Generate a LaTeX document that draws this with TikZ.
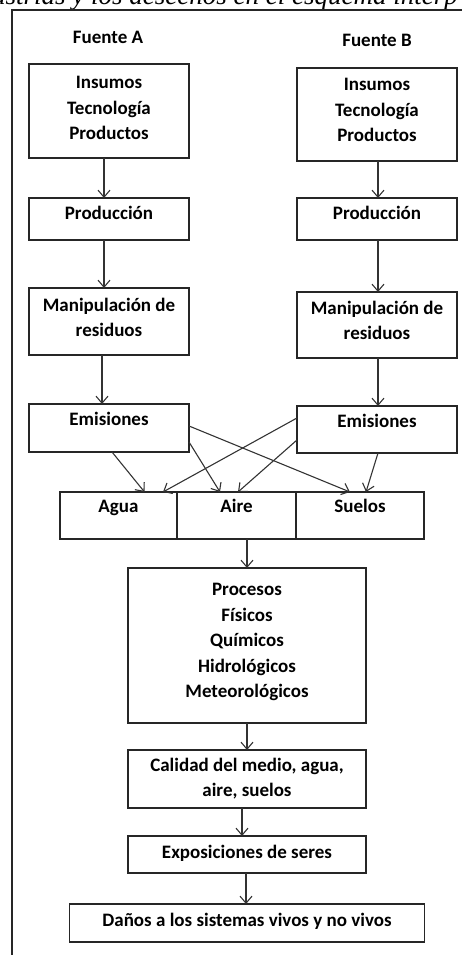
\documentclass[tikz,border=0pt]{standalone}
\usepackage{fontspec}
\setmainfont{Carlito}
\newfontfamily\headfont{Liberation Serif}
\usetikzlibrary{arrows.meta, positioning, calc}

\begin{document}
\begin{tikzpicture}[
    x=1pt, y=1pt,
    node distance=40pt,
    font=\fontsize{19}{25.5}\selectfont\bfseries,
    box/.style={draw=black!85, line width=1.1pt, align=center, inner sep=0pt, outer sep=0pt},
    colbox/.style={box, minimum width=160pt},
    medio/.style={box, text height=21pt, text depth=26pt},
    centro/.style={box, minimum width=238pt},
    arrow/.style={-{Straight Barb[length=7pt, width=12pt, line width=1.1pt]}, line width=1.1pt, black!80}
  ]
    \useasboundingbox (0,0) rectangle (462,955);
    % texto cortado de la pagina y marco
    \node[anchor=base west, inner sep=0pt, font=\fontsize{27}{31}\selectfont\headfont\itshape] (pie) at (-8,950) {ustrias y los desechos en el esquema interp};
    \draw[line width=1.1pt, black!85] (12,0) -- (12,945) -- (462,945);
    % fuente A
    \node[anchor=base] (fa) at (108,911) {Fuente A};
    \node[colbox, anchor=north, text height=76pt, text depth=18pt] (a1) at (109,891)
    {Insumos\\Tecnología\\Productos};
    \node[colbox, below=40pt of a1, text height=22pt, text depth=20pt] (a2) {Producción};
    \node[colbox, below=48pt of a2, text height=49pt, text depth=18pt] (a3)
    {Manipulación de\\residuos};
    \node[colbox, below=49pt of a3, text height=22pt, text depth=26pt] (a4) {Emisiones};
    % fuente B
    \node[anchor=base] (fb) at (377,908) {Fuente B};
    \node[colbox, anchor=north, text height=74pt, text depth=19pt] (b1) at (377,887)
    {Insumos\\Tecnología\\Productos};
    \node[colbox, below=37pt of b1, text height=22pt, text depth=20pt] (b2) {Producción};
    \node[colbox, below=52pt of b2, text height=48pt, text depth=18pt] (b3)
    {Manipulación de\\residuos};
    \node[colbox, below=48pt of b3, text height=22pt, text depth=25pt] (b4) {Emisiones};
    % medios
    \node[medio, minimum width=119pt, anchor=north] (aire) at (236.5,463) {Aire};
    \node[medio, minimum width=117pt, left=0pt of aire] (agua) {Agua};
    \node[medio, minimum width=128pt, right=0pt of aire] (suelos) {Suelos};
    % cadena central
    \node[centro, below=29pt of aire, xshift=10.5pt, text height=130pt, text depth=25pt] (proc)
    {Procesos\\Físicos\\Químicos\\Hidrológicos\\Meteorológicos};
    \node[centro, below=27pt of proc, text height=47pt, text depth=11pt] (cal)
    {Calidad del medio, agua,\\aire, suelos};
    \node[centro, below=28pt of cal, text height=23pt, text depth=14pt] (expo) {Exposiciones de seres};
    \node[box, minimum width=355pt, below=31pt of expo, text height=23pt, text depth=15pt] (danos)
    {Daños a los sistemas vivos y no vivos};
    % flechas
    \draw[arrow] ([xshift=-5pt]a1.south) -- ([xshift=-5pt]a2.north);
    \draw[arrow] ([xshift=-5pt]a2.south) -- ([xshift=-5pt]a3.north);
    \draw[arrow] ([xshift=-7pt]a3.south) -- ([xshift=-7pt]a4.north);
    \draw[arrow] ([xshift=1pt]b1.south) -- ([xshift=1pt]b2.north);
    \draw[arrow] ([xshift=1pt]b2.south) -- ([xshift=1pt]b3.north);
    \draw[arrow] ([xshift=1pt]b3.south) -- ([xshift=1pt]b4.north);
    \draw[arrow] ([xshift=3pt]a4.south) -- ([xshift=26pt]agua.north);
    \draw[arrow] ([yshift=-14pt]a4.east) -- ([xshift=-16.5pt]aire.north);
    \draw[arrow] ([yshift=2pt]a4.east) -- ([xshift=-10pt]suelos.north);
    \draw[arrow] ([yshift=11.5pt]b4.west) -- ([xshift=44.5pt]agua.north);
    \draw[arrow] ([yshift=-10.5pt]b4.west) -- ([xshift=1.5pt]aire.north);
    \draw[arrow] ([xshift=1pt]b4.south) -- ([xshift=6pt]suelos.north);
    \draw[arrow] (proc.north |- aire.south) -- (proc.north);
    \draw[arrow] (proc) -- (cal);
    \draw[arrow] ([xshift=-5pt]cal.south) -- ([xshift=-5pt]expo.north);
    \draw[arrow] ([xshift=-1pt]expo.south) -- ([xshift=-1pt]danos.north);
  \end{tikzpicture}
\end{document}
